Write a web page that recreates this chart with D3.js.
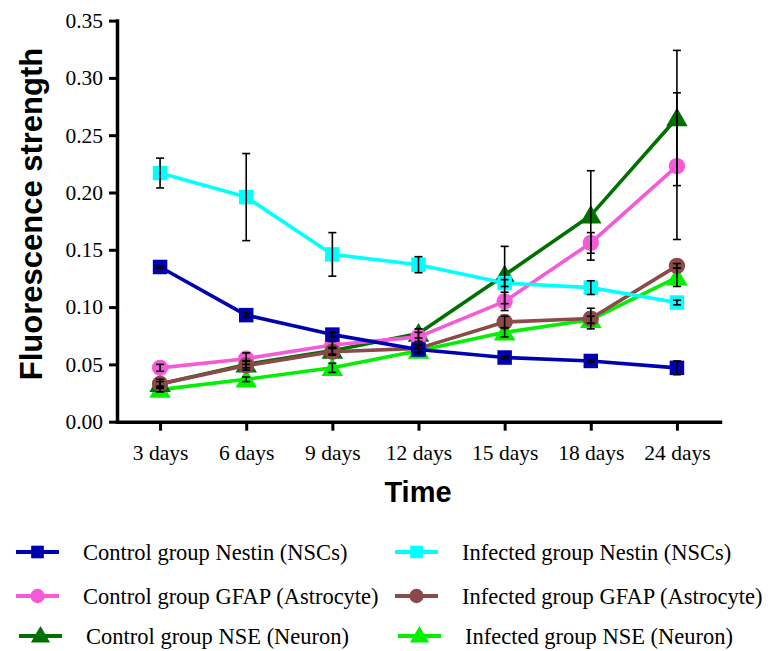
<!DOCTYPE html>
<html><head><meta charset="utf-8">
<script src="https://cdn.jsdelivr.net/npm/d3@7"></script>
<style>body{margin:0;background:#fff}svg{display:block}</style>
</head><body>
<script>
const categories = ["3 days","6 days","9 days","12 days","15 days","18 days","24 days"];
const yTicks = [0,0.05,0.10,0.15,0.20,0.25,0.30,0.35];

const seriesNames = ["Control group Nestin (NSCs)","Infected group Nestin (NSCs)","Control group GFAP (Astrocyte)","Infected group GFAP (Astrocyte)","Control group NSE (Neuron)","Infected group NSE (Neuron)"];
const ctrlNestin   = [0.135,0.093,0.076,0.063,0.056,0.053,0.047];
const ctrlNestinE  = [0.001,0.002,0.002,0.002,0.001,0.001,0.006];
const infNestin    = [0.217,0.196,0.146,0.137,0.121,0.117,0.104];
const infNestinE   = [0.013,0.038,0.019,0.007,0.003,0.006,0.002];
const ctrlGFAP     = [0.047,0.055,0.067,0.074,0.105,0.156,0.223];
const ctrlGFAPE    = [0.003,0.005,0.003,0.004,0.008,0.009,0.064];
const infGFAP      = [0.033,0.049,0.061,0.064,0.087,0.090,0.136];
const infGFAPE     = [0.004,0.004,0.003,0.003,0.005,0.009,0.002];
const ctrlNSE      = [0.033,0.050,0.062,0.077,0.128,0.180,0.265];
const ctrlNSEE     = [0.002,0.003,0.003,0.004,0.025,0.039,0.059];
const infNSE       = [0.028,0.037,0.047,0.062,0.078,0.089,0.126];
const infNSEE      = [0.002,0.002,0.004,0.002,0.004,0.003,0.008];

const series = [
  {name: seriesNames[5], vals: infNSE,     err: infNSEE,     color: "#00F000", shape: "tri"},
  {name: seriesNames[4], vals: ctrlNSE,    err: ctrlNSEE,    color: "#007000", shape: "tri"},
  {name: seriesNames[2], vals: ctrlGFAP,   err: ctrlGFAPE,   color: "#F55AD8", shape: "circle"},
  {name: seriesNames[3], vals: infGFAP,    err: infGFAPE,    color: "#8B4A4A", shape: "circle"},
  {name: seriesNames[0], vals: ctrlNestin, err: ctrlNestinE, color: "#0000B0", shape: "square"},
  {name: seriesNames[1], vals: infNestin,  err: infNestinE,  color: "#00FFFF", shape: "square"}
];

const W = 773, H = 651;
const svg = d3.select("body").append("svg").attr("width", W).attr("height", H);

const x = d3.scalePoint().domain(categories).range([117, 720]).padding(0.5);
const y = d3.scaleLinear().domain([0, 0.35]).range([421.7, 20.6]);

function markerPath(shape, size) {
  const s = shape === "tri" ? d3.symbolTriangle : shape === "circle" ? d3.symbolCircle : d3.symbolSquare;
  return d3.symbol().type(s).size(size)();
}
const sizes = {square: 210, circle: 210, tri: 200};

const plot = svg.append("g");
series.forEach(s => {
  const line = d3.line().x((d,i) => x(categories[i])).y(d => y(d));
  plot.append("path").datum(s.vals).attr("d", line)
    .attr("fill", "none").attr("stroke", s.color).attr("stroke-width", 3.6).attr("stroke-linejoin", "round");
  plot.selectAll(null).data(s.vals).enter().append("path")
    .attr("d", markerPath(s.shape, sizes[s.shape]))
    .attr("transform", (d,i) => `translate(${x(categories[i])},${y(d) + (s.shape === "tri" ? 2 : 0)})`)
    .attr("fill", s.color);
});
// error bars
series.forEach(s => {
  const g = plot.append("g").attr("stroke", "#000").attr("stroke-width", 1.6);
  s.vals.forEach((v, i) => {
    const cx = x(categories[i]), e = s.err[i];
    g.append("line").attr("x1", cx).attr("x2", cx).attr("y1", y(v + e)).attr("y2", y(v - e));
    g.append("line").attr("x1", cx - 4).attr("x2", cx + 4).attr("y1", y(v + e)).attr("y2", y(v + e));
    g.append("line").attr("x1", cx - 4).attr("x2", cx + 4).attr("y1", y(v - e)).attr("y2", y(v - e));
  });
});

// axes
const yAxis = svg.append("g").attr("transform", "translate(117,0)")
  .call(d3.axisLeft(y).tickValues(yTicks).tickFormat(d3.format(".2f")).tickSize(8).tickSizeOuter(0).tickPadding(6));
const xAxis = svg.append("g").attr("transform", "translate(0,421.7)")
  .call(d3.axisBottom(x).tickSize(9).tickSizeOuter(0).tickPadding(14));
[yAxis, xAxis].forEach(a => {
  a.attr("font-family", "'Liberation Serif', 'Times New Roman', serif").attr("font-size", 21.5);
  a.select(".domain").attr("stroke", "#000").attr("stroke-width", 3.5).attr("stroke-linecap", "square");
  a.selectAll(".tick line").attr("stroke", "#000").attr("stroke-width", 3);
  a.selectAll(".tick text").attr("fill", "#000");
});

svg.append("text").attr("transform", "translate(42,214) rotate(-90)")
  .attr("text-anchor", "middle").style("font-family", "'Liberation Sans', Arial, sans-serif")
  .style("font-weight", "bold").style("font-size", "31px").text("Fluorescence strength");
svg.append("text").attr("x", 418).attr("y", 502)
  .attr("text-anchor", "middle").style("font-family", "'Liberation Sans', Arial, sans-serif")
  .style("font-weight", "bold").style("font-size", "29px").text("Time");

// legend
const legendOrder = [
  {s: series[4], col: 0, row: 0}, {s: series[5], col: 1, row: 0},
  {s: series[2], col: 0, row: 1}, {s: series[3], col: 1, row: 1},
  {s: series[1], col: 0, row: 2}, {s: series[0], col: 1, row: 2}
];
const rowY = [552, 596, 636];
const colX = [16, 395];
const textX = [83, 462];
legendOrder.forEach(({s, col, row}) => {
  const off = row === 2 ? 3 : 0;
  const g = svg.append("g").attr("transform", `translate(${colX[col] + off},${rowY[row]})`);
  g.append("line").attr("x1", 0).attr("x2", 43).attr("y1", 0).attr("y2", 0).attr("stroke", s.color).attr("stroke-width", 4);
  g.append("path").attr("d", markerPath(s.shape, 160)).attr("transform", `translate(21.5,${s.shape === "tri" ? 1 : 0})`).attr("fill", s.color);
  svg.append("text").attr("x", textX[col] + off).attr("y", rowY[row]).attr("dy", "0.35em")
    .style("font-family", "'Liberation Serif', 'Times New Roman', serif").style("font-size", "22.5px").attr("fill", "#000").text(s.name);
});
</script>
</body></html>
